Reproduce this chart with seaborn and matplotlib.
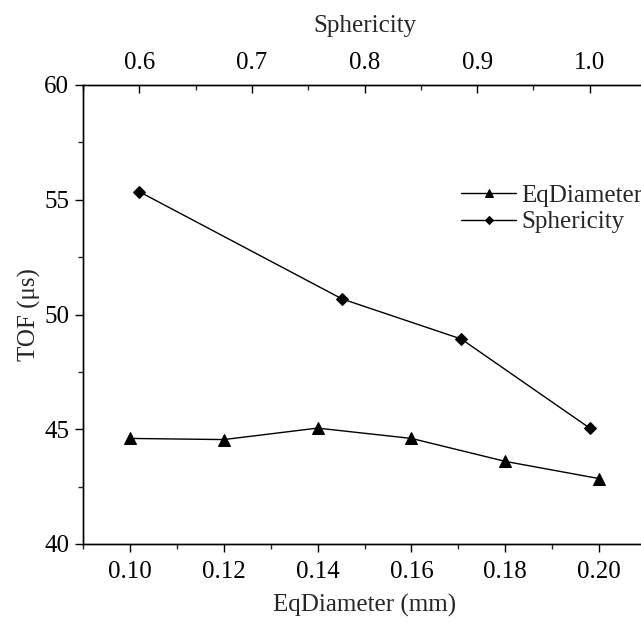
import matplotlib
matplotlib.use("Agg")
import matplotlib.pyplot as plt
import seaborn as sns
import pandas as pd
from matplotlib.ticker import MultipleLocator

# Data
eq_diameter = [0.10, 0.12, 0.14, 0.16, 0.18, 0.20]
tof_eq = [44.6, 44.55, 45.05, 44.6, 43.6, 42.85]
sphericity = [0.60, 0.78, 0.886, 1.00]
tof_sph = [55.35, 50.68, 48.93, 45.05]

bottom_ticks = [0.10, 0.12, 0.14, 0.16, 0.18, 0.20]
top_ticks = [0.6, 0.7, 0.8, 0.9, 1.0]
y_ticks = [40, 45, 50, 55, 60]

sns.set_style("ticks")
plt.rcParams['font.family'] = ['Liberation Serif', 'DejaVu Serif']
plt.rcParams['mathtext.fontset'] = 'stix'
FS = 18

df_eq = pd.DataFrame({"EqDiameter": eq_diameter, "TOF": tof_eq})
df_sph = pd.DataFrame({"Sphericity": sphericity, "TOF": tof_sph})

fig = plt.figure(figsize=(6.41, 6.25), dpi=100)
ax = fig.add_axes([83 / 641, 1 - 544 / 625, (646 - 83) / 641, (544 - 85) / 625])
ax2 = ax.twiny()

sns.lineplot(data=df_eq, x="EqDiameter", y="TOF", ax=ax, color="black",
             marker="^", markersize=9, markeredgecolor="black", linewidth=1.0,
             label="EqDiameter", legend=False)
sns.lineplot(data=df_sph, x="Sphericity", y="TOF", ax=ax2, color="black",
             marker="D", markersize=6.5, markeredgecolor="black", linewidth=1.0,
             label="Sphericity", legend=False)

ax.set_xlim(0.09, 0.21)
ax.set_ylim(40, 60)
ax2.set_xlim(0.55, 1.05)

ax.set_xticks(bottom_ticks)
ax.set_xticklabels([f"{v:.2f}" for v in bottom_ticks])
ax.xaxis.set_minor_locator(MultipleLocator(0.01))
ax.set_yticks(y_ticks)
ax.set_yticklabels([str(v) for v in y_ticks])
ax.yaxis.set_minor_locator(MultipleLocator(2.5))
ax2.set_xticks(top_ticks)
ax2.set_xticklabels([f"{v:.1f}" for v in top_ticks])
ax2.xaxis.set_minor_locator(MultipleLocator(0.05))

for a in (ax, ax2):
    for s in a.spines.values():
        s.set_color("black")
        s.set_linewidth(1.0)

ax.tick_params(axis="x", which="major", direction="out", length=6, width=1, labelsize=FS, pad=6, colors="black")
ax.tick_params(axis="x", which="minor", direction="out", length=3.5, width=1)
ax.tick_params(axis="y", which="major", direction="out", length=6, width=1, labelsize=FS, pad=4, colors="black")
ax.tick_params(axis="y", which="minor", direction="out", length=3.5, width=1)
ax2.tick_params(axis="x", which="major", direction="in", length=6, width=1, labelsize=FS, pad=8, colors="black")
ax2.tick_params(axis="x", which="minor", direction="in", length=3.5, width=1)

ax.set_xlabel("EqDiameter (mm)", fontsize=FS, labelpad=8)
ax.set_ylabel("TOF (μs)", fontsize=FS, labelpad=2)
ax2.set_xlabel("Sphericity", fontsize=FS, labelpad=14)

h1, l1 = ax.get_legend_handles_labels()
h2, l2 = ax2.get_legend_handles_labels()
leg = ax2.legend(h1 + h2, l1 + l2, loc="center left",
                 bbox_to_anchor=(461 / 641, 1 - 209 / 625), bbox_transform=fig.transFigure,
                 frameon=False, fontsize=FS, handlelength=2.2, handletextpad=0.2,
                 labelspacing=0.15, borderpad=0, borderaxespad=0, markerscale=0.65)

fig.savefig("out.png", dpi=100)
